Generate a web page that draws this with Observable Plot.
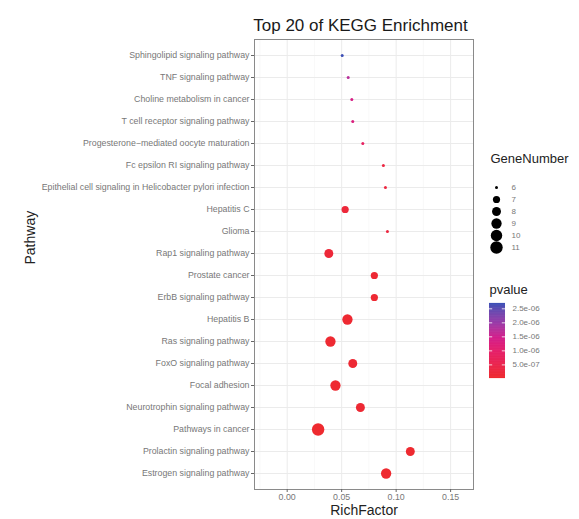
<!DOCTYPE html>
<html><head><meta charset="utf-8">
<script src="https://cdn.jsdelivr.net/npm/d3@7"></script>
<script src="https://cdn.jsdelivr.net/npm/@observablehq/plot@0.6"></script>
<style>
body{margin:0;background:#fff;}
#wrap{position:relative;width:579px;height:519px;overflow:hidden;background:#fff;}
#wrap > svg, #wrap > figure{position:absolute;margin:0;}
</style></head><body><div id="wrap"></div>
<script>
const pathways = [
  "Sphingolipid signaling pathway","TNF signaling pathway","Choline metabolism in cancer",
  "T cell receptor signaling pathway","Progesterone\u2212mediated oocyte maturation",
  "Fc epsilon RI signaling pathway","Epithelial cell signaling in Helicobacter pylori infection",
  "Hepatitis C","Glioma","Rap1 signaling pathway","Prostate cancer","ErbB signaling pathway",
  "Hepatitis B","Ras signaling pathway","FoxO signaling pathway","Focal adhesion",
  "Neurotrophin signaling pathway","Pathways in cancer","Prolactin signaling pathway",
  "Estrogen signaling pathway"
];
const richFactor = [0.0505,0.056,0.0593,0.0602,0.0694,0.0883,0.0902,0.0532,0.092,0.0382,
  0.080,0.080,0.0553,0.0397,0.0602,0.0443,0.0672,0.0284,0.113,0.0908];
const geneNumber = [6,6,6,6,6,6,6,7,6,8,7,7,9,9,8,9,8,11,8,9];
const pValue = [2.69e-6,1.75e-6,1.4e-6,1.3e-6,8.5e-7,3.5e-7,3.2e-7,2.2e-7,3.0e-7,2.0e-7,
  1.2e-7,1.1e-7,1.0e-7,9e-8,1.3e-7,8e-8,1.2e-7,5e-8,6e-8,7e-8];
const xTicks = [0, 0.05, 0.10, 0.15];
const xMinorTicks = [-0.025, 0.025, 0.075, 0.125];
const geneLevels = [6,7,8,9,10,11];
const pTicks = [5e-7, 1e-6, 1.5e-6, 2e-6, 2.5e-6];

const data = pathways.map((p,i)=>({path:p, rich:richFactor[i], gene:geneNumber[i], p:pValue[i]}));

const font = '"Liberation Sans", Arial, Helvetica, sans-serif';
const [pmin, pmax] = d3.extent(pValue);
const stopT = [0, 0.36, 0.55, 0.74, 1];
const stopColors = ["#EE2A2F", "#E5206A", "#D21F8C", "#9A3AA8", "#3D4FB5"];
const colorOpts = {type:"linear", domain: stopT.map(t => pmin + t*(pmax-pmin)), range: stopColors, interpolate:"lab"};
const rOpts = {type:"sqrt", domain:[0,5], range:[1.5,6.2]};
const labelGray = "#777";
const tickGray = "#666";

const main = Plot.plot({
  width:579, height:519, marginLeft:254, marginRight:106, marginTop:39, marginBottom:30,
  style:{fontFamily:font, fontSize:"8.8px", background:"transparent", overflow:"visible"},
  x:{domain:[-0.03, 0.171]},
  y:{type:"point", domain:pathways, padding:0.6},
  r: rOpts,
  color: colorOpts,
  marks:[
    Plot.gridX(xMinorTicks, {stroke:"#f3f3f3", strokeOpacity:1, strokeWidth:0.6}),
    Plot.gridX(xTicks, {stroke:"#ebebeb", strokeOpacity:1, strokeWidth:1}),
    Plot.gridY(pathways, {stroke:"#ebebeb", strokeOpacity:1, strokeWidth:1}),
    Plot.dot(data, {x:"rich", y:"path", r:d=>d.gene-6, fill:"p"}),
    Plot.frame({stroke:"#8a8a8a", strokeWidth:1}),
    Plot.axisX(xTicks, {tickSize:3, tickPadding:1, tickFormat:d3.format(".2f"), stroke:tickGray, fill:labelGray, label:null}),
    Plot.axisY({tickSize:3, tickPadding:2, stroke:tickGray, fill:labelGray, label:null}),
    Plot.text(["Top 20 of KEGG Enrichment"], {text:d=>d, frameAnchor:"top", lineAnchor:"middle", dx:-3.5, dy:-14, fontSize:17, fill:"#1a1a1a"}),
    Plot.text(["RichFactor"], {text:d=>d, frameAnchor:"bottom", lineAnchor:"middle", dy:21, fontSize:14, fill:"#222"}),
    Plot.text(["Pathway"], {text:d=>d, frameAnchor:"left", lineAnchor:"middle", dx:-224, rotate:-90, fontSize:14, fill:"#222"}),
    Plot.text(["GeneNumber"], {text:d=>d, frameAnchor:"top-right", lineAnchor:"middle", dx:17, dy:119, textAnchor:"start", fontSize:13, fill:"#222"}),
    Plot.text(["pvalue"], {text:d=>d, frameAnchor:"top-right", lineAnchor:"middle", dx:16, dy:250, textAnchor:"start", fontSize:13, fill:"#222"})
  ]
});
main.style.left = "0px"; main.style.top = "0px";

const sizeLegend = Plot.plot({
  width:60, height:92, margin:0,
  style:{fontFamily:font, fontSize:"8px", background:"transparent", overflow:"visible"},
  y:{type:"point", domain:geneLevels, range:[6, 83], axis:null},
  r: rOpts,
  marks:[
    Plot.dot(geneLevels, {y:d=>d, r:d=>d-6, fill:"black", frameAnchor:"left", dx:8}),
    Plot.text(geneLevels, {y:d=>d, text:d=>String(d), frameAnchor:"left", lineAnchor:"middle", dx:23, textAnchor:"start", fill:labelGray})
  ]
});
sizeLegend.style.left = "488px"; sizeLegend.style.top = "172px";

const pRamp = d3.range(0, 121).map(i => pmin + i/120*(pmax-pmin));
const fmt = v => d3.format(".1e")(v).replace(/e([-+])(\d)$/, "e$10$2").replace("+","");
const colorLegend = Plot.plot({
  width:80, height:74, marginLeft:0, marginRight:64, marginTop:0, marginBottom:0,
  style:{fontFamily:font, fontSize:"8px", background:"transparent", overflow:"visible"},
  x:{domain:[0,1], axis:null},
  y:{domain:[pmin, pmax], axis:null},
  color: colorOpts,
  marks:[
    Plot.ruleY(pRamp, {y:d=>d, stroke:d=>d, strokeWidth:1.2}),
    Plot.ruleY(pTicks, {y:d=>d, x1:0, x2:0.2, stroke:"white", strokeWidth:0.8}),
    Plot.ruleY(pTicks, {y:d=>d, x1:0.8, x2:1, stroke:"white", strokeWidth:0.8}),
    Plot.axisY(pTicks, {anchor:"right", tickSize:0, tickPadding:7, tickFormat:fmt, fill:labelGray, label:null})
  ]
});
colorLegend.style.left = "488.5px"; colorLegend.style.top = "303px";

const wrap = document.getElementById("wrap");
wrap.append(main, sizeLegend, colorLegend);
</script>
</body></html>
